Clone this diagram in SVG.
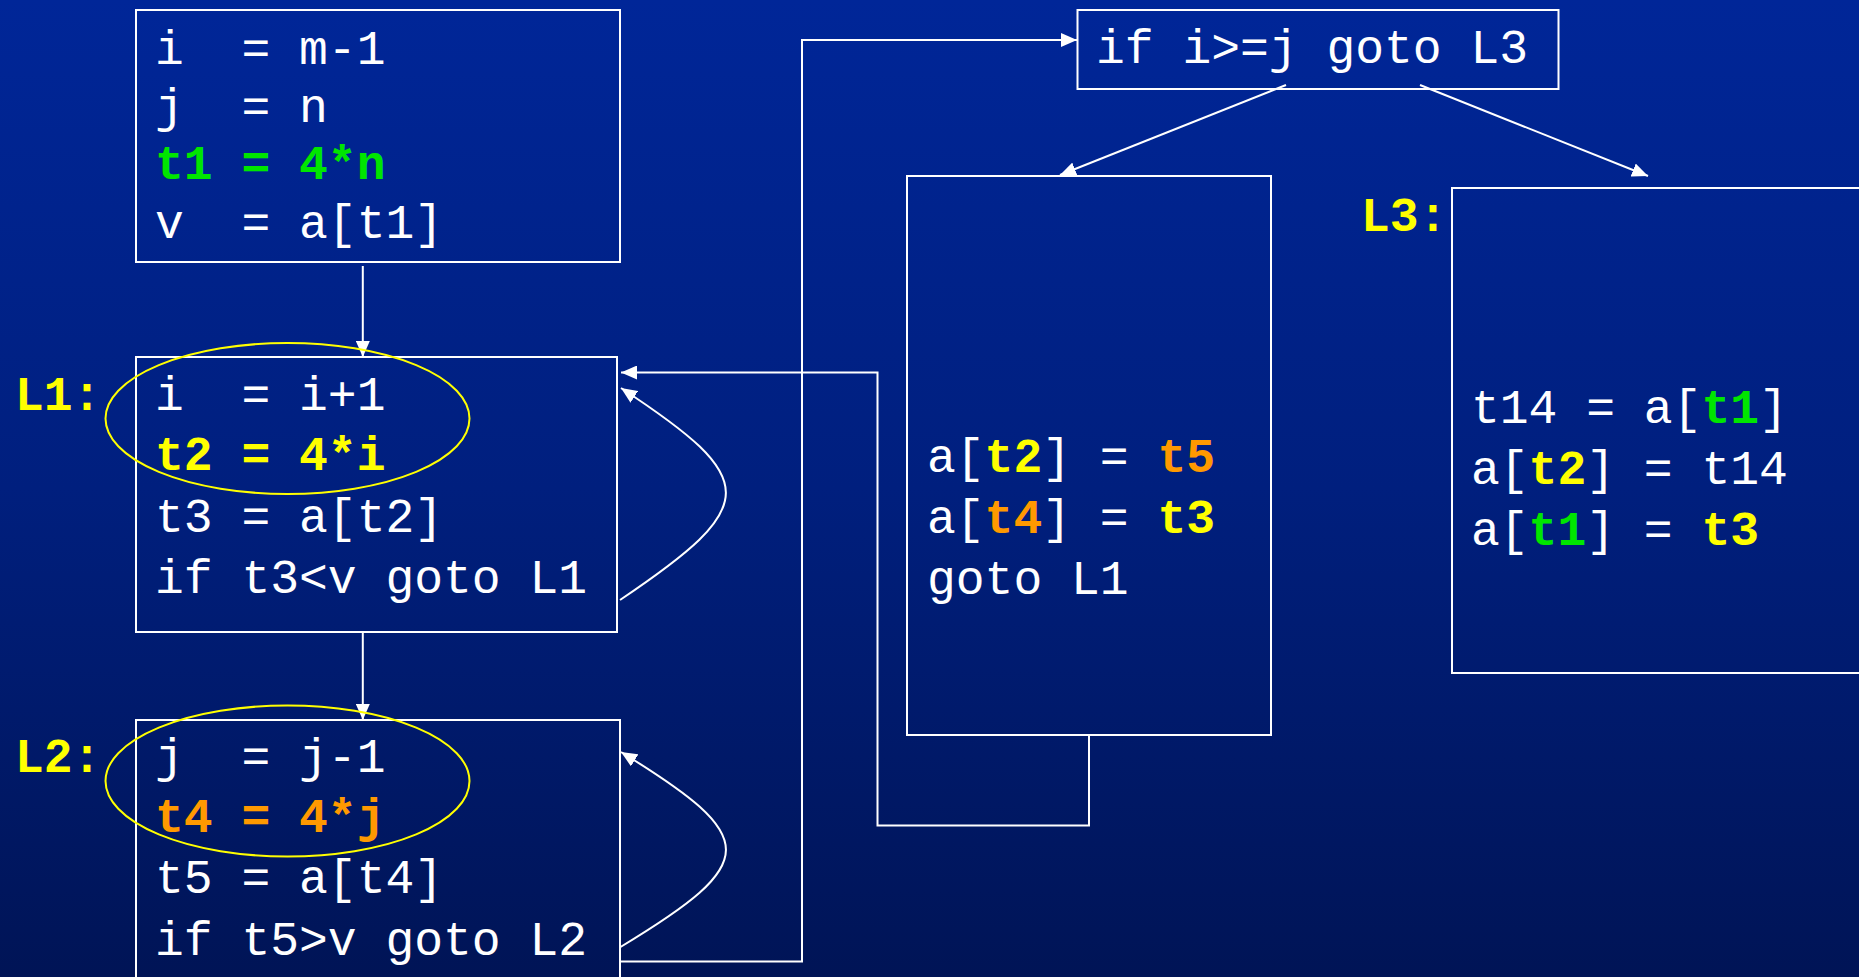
<svg xmlns="http://www.w3.org/2000/svg" width="1859" height="977" viewBox="0 0 1859 977">
<defs>
<linearGradient id="bg" x1="0" y1="0" x2="0" y2="1">
<stop offset="0" stop-color="#002698"/>
<stop offset="0.5" stop-color="#001f7e"/>
<stop offset="1" stop-color="#001456"/>
</linearGradient>
<marker id="ah" markerUnits="userSpaceOnUse" markerWidth="18" markerHeight="14" refX="16" refY="7" orient="auto">
<path d="M0,0 L16,7 L0,14 Z" fill="#ffffff"/>
</marker>
<style>
.box{fill:none;stroke:#ffffff;stroke-width:2}
.t{font-family:"Liberation Mono","Courier New",monospace;font-size:48px;fill:#ffffff;white-space:pre}
.g{fill:#00e600;font-weight:bold}
.y{fill:#ffff00;font-weight:bold}
.o{fill:#ff9900;font-weight:bold}
.lbl{font-family:"Liberation Mono","Courier New",monospace;font-size:48px;font-weight:bold;fill:#ffff00}
.ell{fill:none;stroke:#ffff00;stroke-width:2}
.c{fill:none;stroke:#ffffff;stroke-width:2}
</style>
</defs>
<rect x="0" y="0" width="1859" height="977" fill="url(#bg)"/>

<g id="connectors">
<path class="c" d="M362.8,266 V357" marker-end="url(#ah)"/>
<path class="c" d="M362.8,632 V720" marker-end="url(#ah)"/>
<path class="c" d="M620,600 C761,505 761,480 621,388" marker-end="url(#ah)"/>
<path class="c" d="M620.5,947 C761,862 761,838 621,752" marker-end="url(#ah)"/>
<path class="c" d="M620,961.5 H802 V40 H1077" marker-end="url(#ah)"/>
<path class="c" d="M1089,735 V825.5 H877.5 V372.5 H621" marker-end="url(#ah)"/>
<path class="c" d="M1286,85 L1060,175" marker-end="url(#ah)"/>
<path class="c" d="M1420,85 L1648,176" marker-end="url(#ah)"/>
</g>

<g id="B1">
<rect class="box" x="136" y="10" width="484" height="252"/>
<text class="t" x="155" y="64" xml:space="preserve">i  = m-1</text>
<text class="t" x="155" y="122" xml:space="preserve">j  = n</text>
<text class="t g" x="155" y="179" xml:space="preserve">t1 = 4*n</text>
<text class="t" x="155" y="238" xml:space="preserve">v  = a[t1]</text>
</g>

<g id="L1">
<rect class="box" x="136" y="357" width="481" height="275"/>
<text class="lbl" x="15" y="410">L1:</text>
<text class="t" x="155" y="410" xml:space="preserve">i  = i+1</text>
<text class="t y" x="155" y="470" xml:space="preserve">t2 = 4*i</text>
<text class="t" x="155" y="532" xml:space="preserve">t3 = a[t2]</text>
<text class="t" x="155" y="593" xml:space="preserve">if t3&lt;v goto L1</text>
<ellipse class="ell" cx="287.5" cy="418.5" rx="182" ry="75.5"/>
</g>

<g id="L2">
<rect class="box" x="136" y="720" width="484" height="280"/>
<text class="lbl" x="15" y="772">L2:</text>
<text class="t" x="155" y="772" xml:space="preserve">j  = j-1</text>
<text class="t o" x="155" y="832" xml:space="preserve">t4 = 4*j</text>
<text class="t" x="155" y="893" xml:space="preserve">t5 = a[t4]</text>
<text class="t" x="155" y="955" xml:space="preserve">if t5&gt;v goto L2</text>
<ellipse class="ell" cx="287.5" cy="781" rx="182" ry="75.5"/>
</g>

<g id="B4">
<rect class="box" x="1077.5" y="10" width="481" height="79"/>
<text class="t" x="1096" y="63" xml:space="preserve">if i&gt;=j goto L3</text>
</g>

<g id="B5">
<rect class="box" x="907" y="176" width="364" height="559"/>
<text class="t" x="927" y="472" xml:space="preserve">a[<tspan class="y">t2</tspan>] = <tspan class="o">t5</tspan></text>
<text class="t" x="927" y="533" xml:space="preserve">a[<tspan class="o">t4</tspan>] = <tspan class="y">t3</tspan></text>
<text class="t" x="927" y="594" xml:space="preserve">goto L1</text>
</g>

<g id="L3">
<rect class="box" x="1452" y="188" width="440" height="485"/>
<text class="lbl" x="1361" y="231">L3:</text>
<text class="t" x="1471" y="423" xml:space="preserve">t14 = a[<tspan class="g">t1</tspan>]</text>
<text class="t" x="1471" y="484" xml:space="preserve">a[<tspan class="y">t2</tspan>] = t14</text>
<text class="t" x="1471" y="545" xml:space="preserve">a[<tspan class="g">t1</tspan>] = <tspan class="y">t3</tspan></text>
</g>
</svg>
